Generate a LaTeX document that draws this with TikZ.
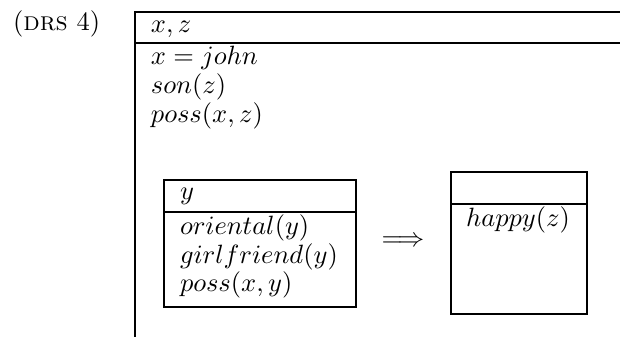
\documentclass[tikz,border=0pt]{standalone}
\usepackage{tikz}
\usetikzlibrary{positioning}
\tikzset{drs/.style={line width=0.8pt}}
\tikzset{cond/.style={anchor=base west, inner sep=0pt, outer sep=0pt}}
\begin{document}
\begin{tikzpicture}[x=0.378pt,y=-0.378pt]
	\useasboundingbox (0,0) rectangle (620,337);
	\node[cond] (lbl) at (13,31) {(\textsc{drs} 4)};
	% outer box, open to the right and below
	\draw[drs] (620,12) -- (135,12) -- (135,337);
	\draw[drs] (135,43) -- (620,43);
	\node[cond] (U) at (151,33) {$x, z$};
	\node[cond] (C1) at (151,65) {$x = john$};
	\node[cond] (C2) at (151,94) {$son(z)$};
	\node[cond] (C3) at (151,123) {$poss(x,z)$};
	% antecedent box
	\draw[drs] (164,180) rectangle (356,307);
	\draw[drs] (164,212) -- (356,212);
	\node[cond] (Ua) at (180,200) {$y$};
	\node[cond] (A1) at (180,235) {$oriental(y)$};
	\node[cond] (A2) at (180,264) {$girlfriend(y)$};
	\node[cond] (A3) at (180,292) {$poss(x,y)$};
	\node[inner sep=0pt] (imp) at (403,242) {$\Longrightarrow$};
	% consequent box
	\draw[drs] (451,172) rectangle (587,314);
	\draw[drs] (451,204) -- (587,204);
	\node[anchor=base, inner sep=0pt] (K1) at (518,227) {$happy(z)$};
\end{tikzpicture}
\end{document}
